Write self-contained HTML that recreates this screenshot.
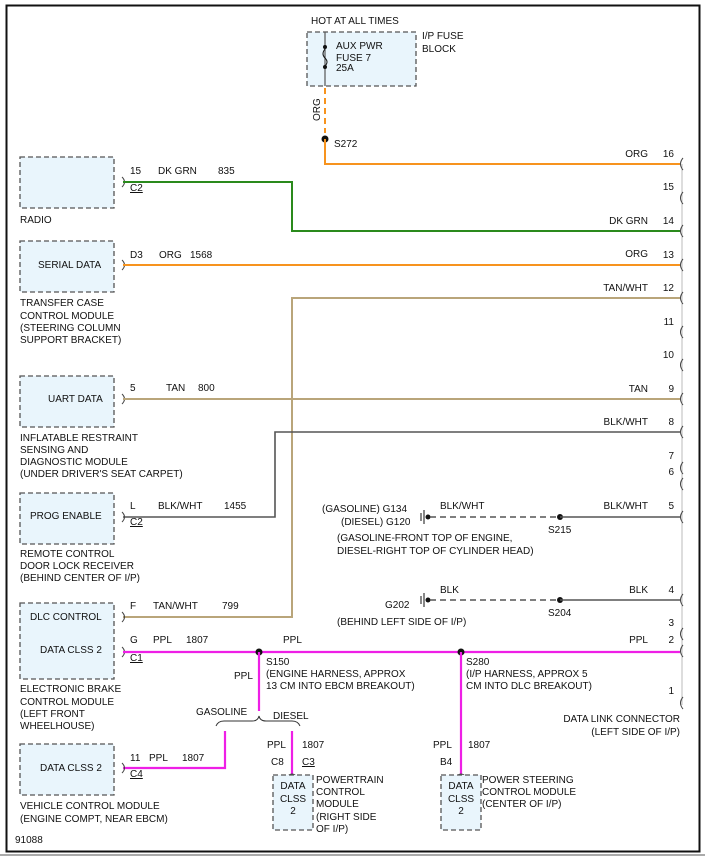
<!DOCTYPE html>
<html><head><style>
html,body{margin:0;padding:0;background:#fff}
svg{display:block}
text{font-family:"Liberation Sans",sans-serif;font-size:10px;fill:#111}
.bx{fill:#e9f5fc;stroke:#555;stroke-width:1.3;stroke-dasharray:5,3}
.c{fill:none;stroke:#444;stroke-width:1}
</style></head><body>
<svg width="705" height="857" viewBox="0 0 705 857">
<rect x="0" y="0" width="705" height="857" fill="#fff"/>
<rect x="6.5" y="5.5" width="693" height="846" fill="none" stroke="#111" stroke-width="2"/>
<line x1="0" y1="855" x2="705" y2="855" stroke="#aaa" stroke-width="2"/>

<!-- fuse block -->
<text x="311" y="24">HOT AT ALL TIMES</text>
<rect class="bx" x="307" y="32" width="109" height="54"/>
<line x1="325" y1="32" x2="325" y2="86" stroke="#555" stroke-width="1.2"/>
<circle cx="325" cy="47" r="2" fill="#111"/><circle cx="325" cy="67" r="2" fill="#111"/>
<path d="M325 49 q-4 5 0 9 q4 4 0 8" fill="none" stroke="#111"/>
<text x="336" y="49">AUX PWR</text><text x="336" y="61">FUSE 7</text><text x="336" y="71">25A</text>
<text x="422" y="39">I/P FUSE</text><text x="422" y="52">BLOCK</text>
<line x1="325" y1="88" x2="325" y2="133" stroke="#f7931e" stroke-width="2" stroke-dasharray="6,4"/>
<text x="320" y="121" transform="rotate(-90 320 121)">ORG</text>
<circle cx="325" cy="139" r="3.5" fill="#111"/>
<text x="334" y="147">S272</text>
<polyline points="325,139 325,164 680,164" fill="none" stroke="#f7931e" stroke-width="2"/>

<!-- connector right -->
<line x1="682" y1="164" x2="682" y2="705" stroke="#bbb" stroke-width="1"/>
<g class="c">
<path d="M683 158 q-5 6 0 12"/><path d="M683 192 q-5 6 0 12"/><path d="M683 225 q-5 6 0 12"/>
<path d="M683 259 q-5 6 0 12"/><path d="M683 292 q-5 6 0 12"/><path d="M683 326 q-5 6 0 12"/>
<path d="M683 359 q-5 6 0 12"/><path d="M683 393 q-5 6 0 12"/><path d="M683 426 q-5 6 0 12"/>
<path d="M683 462 q-5 6 0 12"/><path d="M683 478 q-5 6 0 12"/><path d="M683 511 q-5 6 0 12"/>
<path d="M683 594 q-5 6 0 12"/><path d="M683 628 q-5 6 0 12"/><path d="M683 645 q-5 6 0 12"/>
<path d="M683 697 q-5 6 0 12"/>
</g>
<g text-anchor="end">
<text x="648" y="157">ORG</text><text x="674" y="157">16</text>
<text x="674" y="190">15</text>
<text x="648" y="224">DK GRN</text><text x="674" y="224">14</text>
<text x="648" y="257">ORG</text><text x="674" y="258">13</text>
<text x="648" y="291">TAN/WHT</text><text x="674" y="291">12</text>
<text x="674" y="325">11</text><text x="674" y="358">10</text>
<text x="648" y="392">TAN</text><text x="674" y="392">9</text>
<text x="648" y="425">BLK/WHT</text><text x="674" y="425">8</text>
<text x="674" y="459">7</text><text x="674" y="475">6</text>
<text x="648" y="509">BLK/WHT</text><text x="674" y="509">5</text>
<text x="648" y="593">BLK</text><text x="674" y="593">4</text>
<text x="674" y="626">3</text>
<text x="648" y="643">PPL</text><text x="674" y="643">2</text>
<text x="674" y="694">1</text>
<text x="680" y="722">DATA LINK CONNECTOR</text>
<text x="680" y="735">(LEFT SIDE OF I/P)</text>
</g>

<!-- radio -->
<rect class="bx" x="20" y="157" width="94" height="51"/>
<text x="20" y="223">RADIO</text>
<path class="c" d="M122 177 q5 5 0 10"/>
<text x="130" y="174">15</text><text x="158" y="174">DK GRN</text><text x="218" y="174">835</text>
<text x="130" y="191" text-decoration="underline">C2</text>
<polyline points="123,182 292,182 292,231 680,231" fill="none" stroke="#2a8a1c" stroke-width="2"/>

<!-- serial -->
<rect class="bx" x="20" y="241" width="94" height="51"/>
<text x="38" y="268">SERIAL DATA</text>
<path class="c" d="M122 260 q5 5 0 10"/>
<text x="130" y="258">D3</text><text x="159" y="258">ORG</text><text x="190" y="258">1568</text>
<line x1="123" y1="265" x2="680" y2="265" stroke="#f7931e" stroke-width="2"/>
<text x="20" y="306">TRANSFER CASE</text><text x="20" y="319">CONTROL MODULE</text>
<text x="20" y="331">(STEERING COLUMN</text><text x="20" y="343">SUPPORT BRACKET)</text>

<!-- tan/wht 12 -->
<polyline points="680,298 292,298 292,617 123,617" fill="none" stroke="#b9a57a" stroke-width="2"/>

<!-- UART -->
<rect class="bx" x="20" y="376" width="94" height="51"/>
<text x="48" y="402">UART DATA</text>
<path class="c" d="M122 394 q5 5 0 10"/>
<text x="130" y="391">5</text><text x="166" y="391">TAN</text><text x="198" y="391">800</text>
<line x1="123" y1="399" x2="680" y2="399" stroke="#b9a57a" stroke-width="2"/>
<text x="20" y="441">INFLATABLE RESTRAINT</text><text x="20" y="453">SENSING AND</text>
<text x="20" y="465">DIAGNOSTIC MODULE</text><text x="20" y="477">(UNDER DRIVER'S SEAT CARPET)</text>

<!-- BLK/WHT 8 -->
<polyline points="680,432 275,432 275,517 123,517" fill="none" stroke="#555" stroke-width="1.6"/>
<rect class="bx" x="20" y="493" width="94" height="51"/>
<text x="30" y="519">PROG ENABLE</text>
<path class="c" d="M122 512 q5 5 0 10"/>
<text x="130" y="509">L</text><text x="158" y="509">BLK/WHT</text><text x="224" y="509">1455</text>
<text x="130" y="525" text-decoration="underline">C2</text>
<text x="20" y="557">REMOTE CONTROL</text><text x="20" y="569">DOOR LOCK RECEIVER</text><text x="20" y="581">(BEHIND CENTER OF I/P)</text>

<!-- G134 -->
<text x="322" y="512">(GASOLINE) G134</text><text x="341" y="525">(DIESEL) G120</text>
<g stroke="#111"><line x1="421" y1="513" x2="421" y2="521"/><line x1="424" y1="510" x2="424" y2="524"/></g>
<circle cx="428" cy="517" r="2.5" fill="#111"/>
<line x1="430" y1="517" x2="560" y2="517" stroke="#555" stroke-width="1.6" stroke-dasharray="6,4"/>
<circle cx="560" cy="517" r="3" fill="#111"/>
<line x1="560" y1="517" x2="680" y2="517" stroke="#555" stroke-width="1.6"/>
<text x="440" y="509">BLK/WHT</text><text x="548" y="533">S215</text>
<text x="337" y="541">(GASOLINE-FRONT TOP OF ENGINE,</text>
<text x="337" y="554">DIESEL-RIGHT TOP OF CYLINDER HEAD)</text>

<!-- G202 -->
<text x="440" y="593">BLK</text><text x="385" y="608">G202</text>
<g stroke="#111"><line x1="421" y1="596" x2="421" y2="604"/><line x1="424" y1="593" x2="424" y2="607"/></g>
<circle cx="428" cy="600" r="2.5" fill="#111"/>
<line x1="430" y1="600" x2="560" y2="600" stroke="#555" stroke-width="1.6" stroke-dasharray="6,4"/>
<circle cx="560" cy="600" r="3" fill="#111"/>
<line x1="560" y1="600" x2="680" y2="600" stroke="#555" stroke-width="1.6"/>
<text x="548" y="616">S204</text>
<text x="337" y="625">(BEHIND LEFT SIDE OF I/P)</text>

<!-- EBCM -->
<rect class="bx" x="20" y="603" width="94" height="76"/>
<text x="30" y="620">DLC CONTROL</text><text x="40" y="653">DATA CLSS 2</text>
<path class="c" d="M122 612 q5 5 0 10"/><path class="c" d="M122 647 q5 5 0 10"/>
<text x="130" y="609">F</text><text x="153" y="609">TAN/WHT</text><text x="222" y="609">799</text>
<text x="130" y="643">G</text><text x="153" y="643">PPL</text><text x="186" y="643">1807</text>
<text x="130" y="661" text-decoration="underline">C1</text>
<line x1="123" y1="652" x2="680" y2="652" stroke="#ee1fe6" stroke-width="2.2"/>
<circle cx="259" cy="652" r="3.5" fill="#111"/><circle cx="461" cy="652" r="3.5" fill="#111"/>
<text x="283" y="643">PPL</text>
<text x="266" y="665">S150</text><text x="266" y="677">(ENGINE HARNESS, APPROX</text><text x="266" y="689">13 CM INTO EBCM BREAKOUT)</text>
<text x="466" y="665">S280</text><text x="466" y="677">(I/P HARNESS, APPROX 5</text><text x="466" y="689">CM INTO DLC BREAKOUT)</text>
<text x="20" y="692">ELECTRONIC BRAKE</text><text x="20" y="705">CONTROL MODULE</text>
<text x="20" y="717">(LEFT FRONT</text><text x="20" y="729">WHEELHOUSE)</text>

<line x1="259" y1="652" x2="259" y2="711" stroke="#ee1fe6" stroke-width="2.2"/>
<text x="234" y="679">PPL</text>
<text x="196" y="715">GASOLINE</text><text x="273" y="719">DIESEL</text>
<path d="M216 726 q2 -5 8 -5 h28 q6 0 7 -5 q1 5 7 5 h26 q6 0 8 5" fill="none" stroke="#333" stroke-width="1"/>

<!-- VCM -->
<polyline points="225,731 225,768 123,768" fill="none" stroke="#ee1fe6" stroke-width="2.2"/>
<rect class="bx" x="20" y="744" width="94" height="51"/>
<text x="40" y="771">DATA CLSS 2</text>
<path class="c" d="M122 763 q5 5 0 10"/>
<text x="130" y="761">11</text><text x="149" y="761">PPL</text><text x="182" y="761">1807</text>
<text x="130" y="777" text-decoration="underline">C4</text>
<text x="20" y="809">VEHICLE CONTROL MODULE</text><text x="20" y="822">(ENGINE COMPT, NEAR EBCM)</text>

<!-- PCM -->
<line x1="292" y1="731" x2="292" y2="775" stroke="#ee1fe6" stroke-width="2.2"/>
<text x="267" y="748">PPL</text><text x="302" y="748">1807</text>
<text x="271" y="765">C8</text><text x="302" y="765" text-decoration="underline">C3</text>
<path class="c" d="M287 777 q5 -6 10 0"/>
<rect class="bx" x="273" y="775" width="40" height="55"/>
<text x="293" y="789" text-anchor="middle">DATA</text><text x="293" y="802" text-anchor="middle">CLSS</text><text x="293" y="814" text-anchor="middle">2</text>
<text x="316" y="783">POWERTRAIN</text><text x="316" y="795">CONTROL</text><text x="316" y="807">MODULE</text><text x="316" y="820">(RIGHT SIDE</text><text x="316" y="832">OF I/P)</text>

<!-- PSCM -->
<line x1="461" y1="652" x2="461" y2="775" stroke="#ee1fe6" stroke-width="2.2"/>
<text x="433" y="748">PPL</text><text x="468" y="748">1807</text>
<text x="440" y="765">B4</text>
<path class="c" d="M456 777 q5 -6 10 0"/>
<rect class="bx" x="441" y="775" width="40" height="55"/>
<text x="461" y="789" text-anchor="middle">DATA</text><text x="461" y="802" text-anchor="middle">CLSS</text><text x="461" y="814" text-anchor="middle">2</text>
<text x="482" y="783">POWER STEERING</text><text x="482" y="795">CONTROL MODULE</text><text x="482" y="807">(CENTER OF I/P)</text>

<text x="15" y="843">91088</text>
</svg>
</body></html>
